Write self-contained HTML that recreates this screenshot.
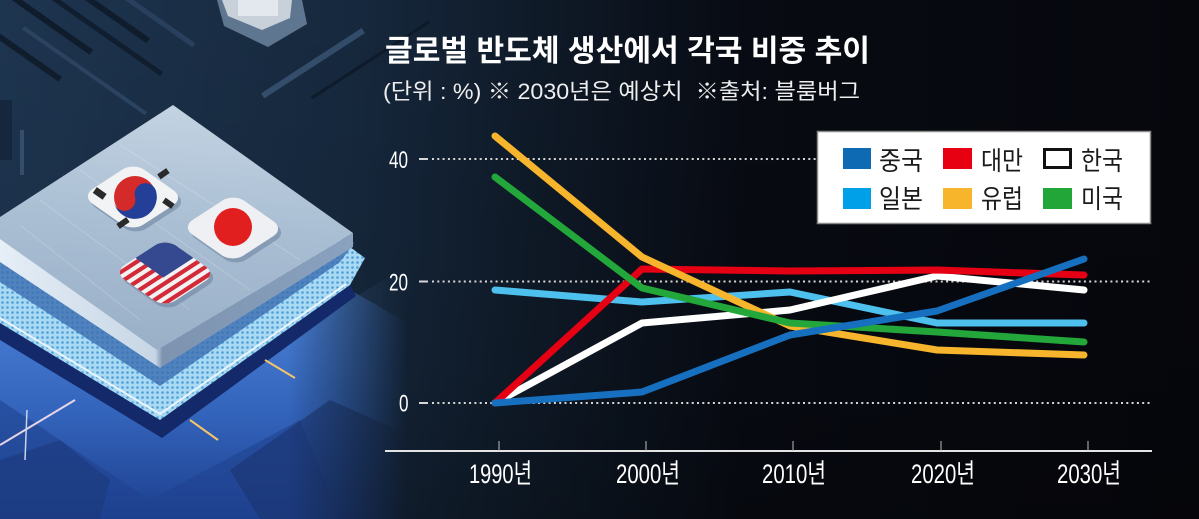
<!DOCTYPE html>
<html><head><meta charset="utf-8">
<style>
html,body{margin:0;padding:0;background:#07080e;overflow:hidden;}
svg{display:block}
text{font-family:"Liberation Sans","Noto Sans CJK KR",sans-serif;}
</style></head><body>
<svg width="1199" height="519" viewBox="0 0 1199 519" xmlns="http://www.w3.org/2000/svg">
<defs>
  <linearGradient id="bgL" x1="0" y1="0" x2="1199" y2="0" gradientUnits="userSpaceOnUse">
    <stop offset="0" stop-color="#1e3550"/>
    <stop offset="0.3" stop-color="#16283d"/>
    <stop offset="0.45" stop-color="#0f1a28"/>
    <stop offset="0.62" stop-color="#080b13"/>
    <stop offset="1" stop-color="#06070d"/>
  </linearGradient>
  <linearGradient id="bgV" x1="0" y1="0" x2="0" y2="519" gradientUnits="userSpaceOnUse">
    <stop offset="0" stop-color="#000" stop-opacity="0"/>
    <stop offset="0.7" stop-color="#000" stop-opacity="0.1"/>
    <stop offset="1" stop-color="#000" stop-opacity="0.25"/>
  </linearGradient>
  <linearGradient id="lid" x1="173" y1="105" x2="157" y2="350" gradientUnits="userSpaceOnUse">
    <stop offset="0" stop-color="#c3d3e2"/>
    <stop offset="0.5" stop-color="#a9bed3"/>
    <stop offset="1" stop-color="#9ab0c7"/>
  </linearGradient>
  <linearGradient id="lidEdge" x1="0" y1="0" x2="353" y2="0" gradientUnits="userSpaceOnUse">
    <stop offset="0" stop-color="#e6eef6"/>
    <stop offset="0.44" stop-color="#c7d6e6"/>
    <stop offset="0.46" stop-color="#7d93b0"/>
    <stop offset="1" stop-color="#8aa2bf"/>
  </linearGradient>
  <linearGradient id="glow" x1="0" y1="300" x2="0" y2="519" gradientUnits="userSpaceOnUse">
    <stop offset="0" stop-color="#4a80d4"/>
    <stop offset="0.5" stop-color="#3465bd"/>
    <stop offset="1" stop-color="#1d3f8e"/>
  </linearGradient>
  <linearGradient id="fadeG" x1="0" y1="0" x2="1199" y2="0" gradientUnits="userSpaceOnUse">
    <stop offset="0" stop-color="#fff"/>
    <stop offset="0.24" stop-color="#fff"/>
    <stop offset="0.34" stop-color="#000"/>
    <stop offset="1" stop-color="#000"/>
  </linearGradient>
  <mask id="fade" maskUnits="userSpaceOnUse" x="0" y="0" width="1199" height="519">
    <rect width="1199" height="519" fill="url(#fadeG)"/>
  </mask>
  <pattern id="dots" width="5" height="5" patternUnits="userSpaceOnUse">
    <rect width="5" height="5" fill="#a9d9f3"/>
    <circle cx="2.5" cy="2.5" r="1.3" fill="#4f9fd8"/>
  </pattern>
  <clipPath id="fr"><rect x="-31" y="-31" width="62" height="62" rx="13"/></clipPath>
</defs>

<!-- background -->
<rect width="1199" height="519" fill="url(#bgL)"/>
<rect width="1199" height="519" fill="url(#bgV)"/>

<!-- circuit bits top-left -->
<g opacity="0.8">
  <g transform="rotate(35 100 40)">
    <rect x="0" y="10" width="140" height="6" fill="#0d1826"/>
    <rect x="10" y="30" width="160" height="5" fill="#0e1a29"/>
    <rect x="-20" y="52" width="120" height="6" fill="#0c1724"/>
    <rect x="30" y="72" width="150" height="4" fill="#2f4866"/>
    <rect x="-40" y="92" width="130" height="6" fill="#0d1826"/>
    <rect x="60" y="-12" width="120" height="5" fill="#2c4564"/>
  </g>
  <g transform="rotate(-33 300 80)">
    <rect x="260" y="70" width="120" height="6" fill="#3a5676"/>
    <rect x="300" y="100" width="140" height="3" fill="#0d1826"/>
  </g>
  <rect x="20" y="130" width="4" height="45" fill="#3b5675"/>
  <rect x="0" y="100" width="12" height="60" fill="#15243a"/>
</g>
<!-- small top chip -->
<polygon points="217,0 302,0 307,24 268,47 224,26" fill="#5f7690"/>
<polygon points="222,0 292,0 290,18 262,30 228,16" fill="#c8d1da"/>
<rect x="238" y="0" width="40" height="16" fill="#e3e8ee"/>

<!-- lower-left board, faded toward the right -->
<g mask="url(#fade)">
  <polygon points="300,330 400,270 440,300 440,470 330,470 290,420" fill="#2f4a6c" opacity="0.75"/>
  <rect x="315" y="365" width="8" height="8" fill="#1a2840"/>
  <rect x="345" y="372" width="8" height="8" fill="#1a2840"/>
  <rect x="372" y="340" width="8" height="8" fill="#1a2840"/>
  <polygon points="0,300 165,425 350,290 420,330 420,519 0,519" fill="url(#glow)"/>
  <polygon points="0,400 150,500 300,420 340,519 0,519" fill="#1f438f" opacity="0.6"/>
  <polygon points="230,470 330,400 420,440 420,519 260,519" fill="#1a3370" opacity="0.6"/>
  <polygon points="0,460 60,440 110,480 100,519 0,519" fill="#1a3575" opacity="0.5"/>
</g>
<polygon points="0,323 160,420 350,285 356,296 162,438 0,340" fill="#14296a"/>
<line x1="0" y1="445" x2="75" y2="400" stroke="#e6d6e8" stroke-width="2"/>
<line x1="190" y1="420" x2="218" y2="440" stroke="#f3c46a" stroke-width="2"/>
<line x1="265" y1="360" x2="295" y2="378" stroke="#f3c46a" stroke-width="2"/>
<line x1="27" y1="410" x2="25" y2="460" stroke="#c8d4ea" stroke-width="1.5"/>

<!-- substrate dotted band -->
<polygon points="0,240 175,118 365,258 350,285 160,420 0,323" fill="url(#dots)"/>
<polyline points="0,318 160,414 346,284" fill="none" stroke="#e8f4fb" stroke-width="2"/>
<polygon points="0,258 160,366 355,242 340,262 160,386 0,282" fill="#3a6bb0" opacity="0.8"/>

<!-- lid thickness and top -->
<polygon points="0,238 157,350 353,233 353,247 160,368 0,262" fill="url(#lidEdge)"/>
<polygon points="0,217 173,105 353,233 157,350 0,239" fill="url(#lid)"/>
<g opacity="0.18" stroke="#ffffff" stroke-width="1">
  <line x1="40" y1="200" x2="190" y2="310"/>
  <line x1="80" y1="170" x2="250" y2="290"/>
  <line x1="120" y1="145" x2="300" y2="260"/>
  <line x1="20" y1="225" x2="140" y2="320"/>
</g>

<!-- flags -->
<g transform="matrix(0.819,0.574,-0.839,0.544,136,201)"><rect x="-31" y="-31" width="62" height="62" rx="13" fill="#6f86a2" opacity="0.6"/></g>
<g transform="matrix(0.819,0.574,-0.839,0.544,133,197)"><rect x="-31" y="-31" width="62" height="62" rx="13" fill="#f1f3f5"/></g>
<circle cx="135" cy="197" r="21" fill="#d42a2a"/>
<path d="M114,203 A21,21 0 0 0 156,191 A10.5,10.5 0 0 0 135,197 A10.5,10.5 0 0 1 114,203 Z" fill="#233f98"/>
<rect x="94" y="190" width="12" height="7" fill="#2a2a2a" transform="rotate(35 100 193)"/>
<rect x="158" y="171" width="11" height="6" fill="#2a2a2a" transform="rotate(-35 163 174)"/>
<rect x="163" y="200" width="11" height="6" fill="#2a2a2a" transform="rotate(35 168 203)"/>
<rect x="117" y="220" width="12" height="6" fill="#2a2a2a" transform="rotate(-35 123 223)"/>

<g transform="matrix(0.819,0.574,-0.839,0.544,236,232)"><rect x="-31" y="-31" width="62" height="62" rx="13" fill="#6f86a2" opacity="0.6"/></g>
<g transform="matrix(0.819,0.574,-0.839,0.544,233,228)"><rect x="-31" y="-31" width="62" height="62" rx="13" fill="#eef0f3"/></g>
<circle cx="233" cy="227" r="19" fill="#e21f1f"/>

<g transform="matrix(0.819,0.574,-0.839,0.544,168,277)"><rect x="-31" y="-31" width="62" height="62" rx="13" fill="#6f86a2" opacity="0.6"/></g>
<g transform="matrix(0.819,0.574,-0.839,0.544,165,273)">
  <g clip-path="url(#fr)">
    <rect x="-31" y="-31" width="62" height="62" fill="#f2f2f2"/>
    <rect x="-29" y="-31" width="4.5" height="62" fill="#d32a3a"/>
    <rect x="-20" y="-31" width="4.5" height="62" fill="#d32a3a"/>
    <rect x="-11" y="-31" width="4.5" height="62" fill="#d32a3a"/>
    <rect x="-2" y="-31" width="4.5" height="62" fill="#d32a3a"/>
    <rect x="7" y="-31" width="4.5" height="62" fill="#d32a3a"/>
    <rect x="16" y="-31" width="4.5" height="62" fill="#d32a3a"/>
    <rect x="25" y="-31" width="4.5" height="62" fill="#d32a3a"/>
    <rect x="-31" y="-31" width="34" height="36" fill="#34498f"/>
  </g>
</g>

<!-- title -->
<text x="385" y="61" font-size="30" font-weight="700" fill="#ffffff" textLength="485" lengthAdjust="spacingAndGlyphs">글로벌 반도체 생산에서 각국 비중 추이</text>
<text x="383" y="99" font-size="22" fill="#eeeeee" textLength="477" lengthAdjust="spacingAndGlyphs" style="white-space:pre">(단위 : %) ※ 2030년은 예상치  ※출처: 블룸버그</text>

<!-- gridlines -->
<g stroke="#d6d6d6" stroke-width="2">
  <line x1="419" y1="159" x2="428" y2="159"/>
  <line x1="419" y1="281.5" x2="428" y2="281.5"/>
  <line x1="419" y1="403" x2="428" y2="403"/>
  <line x1="432" y1="159" x2="1150" y2="159" stroke-dasharray="2 3.3"/>
  <line x1="432" y1="281.5" x2="1150" y2="281.5" stroke-dasharray="2 3.3"/>
  <line x1="432" y1="403" x2="1150" y2="403" stroke-dasharray="2 3.3"/>
</g>

<!-- y labels -->
<g fill="#ffffff" font-size="24">
  <text x="389" y="168" textLength="19" lengthAdjust="spacingAndGlyphs">40</text>
  <text x="389" y="290.5" textLength="19" lengthAdjust="spacingAndGlyphs">20</text>
  <text x="399" y="411.5" textLength="9.5" lengthAdjust="spacingAndGlyphs">0</text>
</g>

<!-- x axis -->
<line x1="385" y1="451" x2="1152" y2="451" stroke="#e4e4e4" stroke-width="2"/>
<g stroke="#bdbdbd" stroke-width="1">
  <line x1="499" y1="441" x2="499" y2="451"/>
  <line x1="646" y1="441" x2="646" y2="451"/>
  <line x1="793" y1="441" x2="793" y2="451"/>
  <line x1="941" y1="441" x2="941" y2="451"/>
  <line x1="1088" y1="441" x2="1088" y2="451"/>
</g>
<g fill="#ffffff" font-size="27">
  <text x="469" y="483" textLength="63" lengthAdjust="spacingAndGlyphs">1990년</text>
  <text x="616" y="483" textLength="64" lengthAdjust="spacingAndGlyphs">2000년</text>
  <text x="762" y="483" textLength="64" lengthAdjust="spacingAndGlyphs">2010년</text>
  <text x="911" y="483" textLength="64" lengthAdjust="spacingAndGlyphs">2020년</text>
  <text x="1057" y="483" textLength="64" lengthAdjust="spacingAndGlyphs">2030년</text>
</g>

<!-- series -->
<g fill="none" stroke-width="7" stroke-linecap="round" stroke-linejoin="round">
  <polyline points="495,290 642,302 790,292 937,323 1084,323" stroke="#4dc0ee"/>
  <polyline points="495,403 642,323 790,310 937,276 1084,290" stroke="#ffffff"/>
  <polyline points="495,403 642,269 790,271 937,270 1084,275" stroke="#e60014"/>
  <polyline points="495,136 642,257 790,326 937,350 1084,355" stroke="#f6b52c"/>
  <polyline points="495,177 642,288 790,323 937,332 1084,342" stroke="#23a73a"/>
  <polyline points="495,403 642,392 790,335 937,311 1084,259" stroke="#1670bf"/>
</g>

<!-- legend -->
<rect x="817.5" y="131.5" width="333" height="92" fill="#ffffff" stroke="#8a8a8a" stroke-width="1.5"/>
<rect x="843" y="148" width="28" height="21" fill="#0f6ab4"/>
<rect x="943" y="148" width="29" height="21" fill="#e60012"/>
<rect x="1044.5" y="149.5" width="26" height="18" fill="#ffffff" stroke="#111111" stroke-width="3"/>
<rect x="843" y="188" width="28" height="21" fill="#00a0e9"/>
<rect x="943" y="188" width="29" height="21" fill="#f7b52c"/>
<rect x="1043" y="188" width="29" height="21" fill="#22a638"/>
<g fill="#1a1a1a" font-size="26">
  <text x="879" y="170" textLength="44" lengthAdjust="spacingAndGlyphs">중국</text>
  <text x="981" y="170" textLength="42" lengthAdjust="spacingAndGlyphs">대만</text>
  <text x="1081" y="170" textLength="42" lengthAdjust="spacingAndGlyphs">한국</text>
  <text x="879" y="208" textLength="44" lengthAdjust="spacingAndGlyphs">일본</text>
  <text x="981" y="208" textLength="42" lengthAdjust="spacingAndGlyphs">유럽</text>
  <text x="1081" y="208" textLength="42" lengthAdjust="spacingAndGlyphs">미국</text>
</g>
</svg>
</body></html>
